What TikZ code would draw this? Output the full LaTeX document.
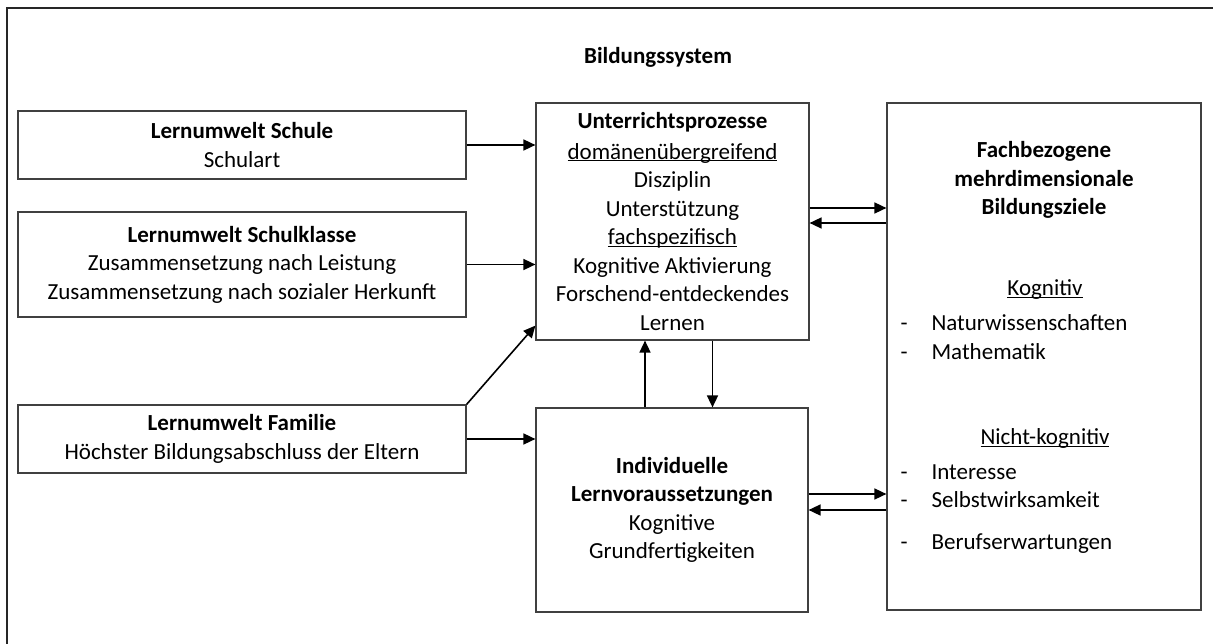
\documentclass[tikz,border=0pt]{standalone}
\usepackage{fontspec}
\setmainfont{Carlito}
\usetikzlibrary{arrows.meta}

\newcommand{\unterstrichen}[1]{\underline{\smash{#1}}}

\tikzset{
  kasten/.style={draw=black!75, line width=1.2pt, inner sep=0pt, align=center},
  pfeil/.style={-{Triangle[length=12pt,width=11pt]}, line width=1.6pt},
}

\begin{document}
\begin{tikzpicture}[x=1pt,y=-1pt, every node/.style={font=\fontsize{23}{28.5}\selectfont}]
\useasboundingbox (0,0) rectangle (1213,644);

% Rahmen
\draw[line width=2pt, black!85] (7,644) -- (7,8) -- (1213,8);

\node (titel) at (658,57) {\textbf{Bildungssystem}};

% Lernumwelten
\node[kasten, minimum width=448pt, minimum height=68pt] (schule) at (242,145) {\textbf{Lernumwelt Schule}\\Schulart};
\node[kasten, minimum width=448pt, minimum height=105pt] (klasse) at (242,264.5) {\textbf{Lernumwelt Schulklasse}\\Zusammensetzung nach Leistung\\Zusammensetzung nach sozialer Herkunft};
\node[kasten, minimum width=448pt, minimum height=68pt] (familie) at (242,439) {\textbf{Lernumwelt Familie}\\H\"ochster Bildungsabschluss der Eltern};

% Mitte
\node[kasten, minimum width=273pt, minimum height=237pt] (unterricht) at (672.5,221.5) {\textbf{Unterrichtsprozesse}\\[2pt]\unterstrichen{dom\"anen\"ubergreifend}\\Disziplin\\Unterst\"utzung\\\unterstrichen{fachspezifisch}\\Kognitive Aktivierung\\Forschend-entdeckendes\\Lernen};
\node[kasten, minimum width=272pt, minimum height=204pt] (individuell) at (672,510) {\textbf{Individuelle}\\\textbf{Lernvoraussetzungen}\\Kognitive\\Grundfertigkeiten};

% Bildungsziele
\node[kasten, minimum width=314pt, minimum height=507pt] (ziele) at (1044,356.5) {};
\node[align=center] (zieltitel) at (1044,180) {\textbf{Fachbezogene}\\\textbf{mehrdimensionale}\\\textbf{Bildungsziele}};
\node[anchor=mid] (kognitiv) at (1045,293) {\unterstrichen{Kognitiv}};
\node[anchor=mid west] (strich1) at (897,328) {-};
\node[anchor=mid west] (natur) at (928,328) {Naturwissenschaften};
\node[anchor=mid west] (strich2) at (897,357) {-};
\node[anchor=mid west] (mathe) at (928,357) {Mathematik};
\node[anchor=mid] (nichtkognitiv) at (1045,442) {\unterstrichen{Nicht-kognitiv}};
\node[anchor=mid west] (strich3) at (897,477) {-};
\node[anchor=mid west] (interesse) at (928,477) {Interesse};
\node[anchor=mid west] (strich4) at (897,505) {-};
\node[anchor=mid west] (selbst) at (928,505) {Selbstwirksamkeit};
\node[anchor=mid west] (strich5) at (897,547) {-};
\node[anchor=mid west] (beruf) at (928,547) {Berufserwartungen};

% Pfeile
\draw[pfeil] (schule.east) -- (schule.east -| unterricht.west);
\draw[pfeil] (klasse.east) -- (klasse.east -| unterricht.west);
\draw[pfeil] (familie.north east) -- ([yshift=15pt]unterricht.south west);
\draw[pfeil] (familie.east) -- (familie.east -| individuell.west);

\draw[pfeil] ([xshift=-27pt]individuell.north) -- ([xshift=-27pt]individuell.north |- unterricht.south);
\draw[pfeil] ([xshift=40pt]unterricht.south) -- ([xshift=40pt]unterricht.south |- individuell.north);

\draw[pfeil] ([yshift=13.5pt]unterricht.east) -- ([yshift=13.5pt]unterricht.east -| ziele.west);
\draw[pfeil] ([yshift=-1.5pt]unterricht.east -| ziele.west) -- ([yshift=-1.5pt]unterricht.east);
\draw[pfeil] ([yshift=16pt]individuell.east) -- ([yshift=16pt]individuell.east -| ziele.west);
\draw[pfeil] (individuell.east -| ziele.west) -- (individuell.east);
\end{tikzpicture}
\end{document}
